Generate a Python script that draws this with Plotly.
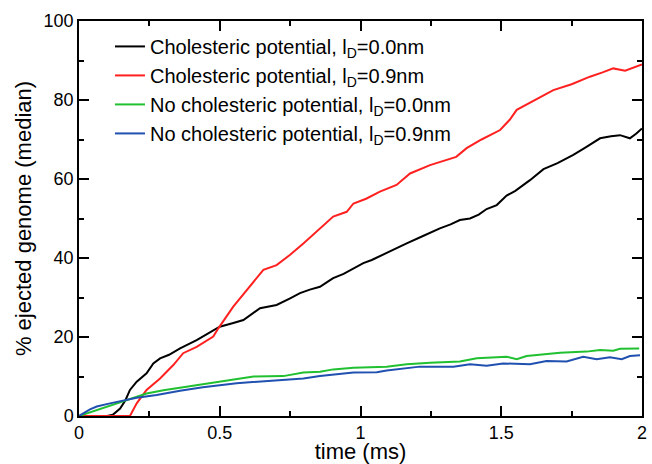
import plotly.graph_objects as go

# Series data
t_black = [0, 0.10, 0.12, 0.146, 0.165, 0.181, 0.205, 0.24, 0.264, 0.288, 0.32, 0.359, 0.418, 0.477, 0.5,
           0.545, 0.584, 0.643, 0.678, 0.702, 0.75, 0.785, 0.82, 0.856, 0.892, 0.903, 0.94, 0.975, 1.01,
           1.04, 1.069, 1.11, 1.164, 1.22, 1.282, 1.32, 1.353, 1.389, 1.42, 1.448, 1.484, 1.519, 1.55,
           1.602, 1.65, 1.7, 1.756, 1.80, 1.851, 1.89, 1.922, 1.957, 1.98, 2.0]
v_black = [0, 0, 0.3, 1.9, 4.0, 6.6, 8.7, 10.8, 13.3, 14.6, 15.5, 17.1, 19.2, 21.8, 22.6,
           23.5, 24.3, 27.3, 27.7, 28.1, 29.8, 31.1, 32.0, 32.7, 34.4, 34.9, 36.0, 37.4, 38.7,
           39.5, 40.5, 42.0, 43.7, 45.5, 47.5, 48.5, 49.6, 50.0, 51.0, 52.4, 53.4, 55.8, 57.0,
           59.7, 62.5, 64.0, 66.1, 68.0, 70.3, 70.8, 71.1, 70.3, 71.5, 72.8]

t_red = [0, 0.181, 0.205, 0.24, 0.288, 0.335, 0.37, 0.418, 0.477, 0.495, 0.548, 0.596, 0.655, 0.702,
         0.75, 0.797, 0.844, 0.903, 0.951, 0.975, 1.02, 1.069, 1.128, 1.176, 1.247, 1.30, 1.34, 1.377,
         1.43, 1.496, 1.53, 1.555, 1.62, 1.685, 1.75, 1.815, 1.86, 1.898, 1.94, 1.97, 2.0]
v_red = [0, 0, 3.2, 6.6, 9.5, 12.9, 15.9, 17.5, 20.1, 22.2, 27.7, 31.9, 37.0, 38.2,
         40.8, 43.7, 46.7, 50.5, 51.7, 53.8, 55.0, 56.8, 58.5, 61.4, 63.5, 64.8, 65.6, 67.8,
         70.0, 72.4, 75.0, 77.5, 80.0, 82.5, 84.0, 85.9, 87.0, 88.0, 87.4, 88.3, 89.0]

t_green = [0, 0.063, 0.146, 0.24, 0.30, 0.383, 0.5, 0.56, 0.62, 0.726, 0.797, 0.856, 0.903, 0.975,
           1.093, 1.164, 1.247, 1.353, 1.413, 1.519, 1.555, 1.59, 1.685, 1.709, 1.803, 1.851, 1.898,
           1.922, 1.99]
v_green = [0, 1.5, 3.6, 5.7, 6.5, 7.4, 8.7, 9.3, 10.0, 10.1, 11.0, 11.2, 11.8, 12.2,
           12.5, 13.1, 13.5, 13.8, 14.6, 15.0, 14.4, 15.2, 15.9, 16.0, 16.3, 16.7, 16.5,
           17.0, 17.1]

t_blue = [0, 0.039, 0.063, 0.11, 0.205, 0.276, 0.359, 0.44, 0.56, 0.678, 0.797, 0.856, 0.892, 0.975,
          1.058, 1.093, 1.211, 1.33, 1.389, 1.448, 1.507, 1.602, 1.661, 1.732, 1.791, 1.839, 1.886,
          1.928, 1.957, 1.993]
v_blue = [0, 1.7, 2.4, 3.2, 4.6, 5.3, 6.4, 7.3, 8.3, 8.9, 9.5, 10.1, 10.4, 11.0,
          11.1, 11.5, 12.5, 12.5, 13.1, 12.7, 13.3, 13.1, 13.9, 13.8, 15.0, 14.4, 14.9,
          14.4, 15.2, 15.4]

x_ticks = [0, 0.5, 1, 1.5, 2]
x_ticktext = ["0", "0.5", "1", "1.5", "2"]
y_ticks = [0, 20, 40, 60, 80, 100]

names = ["Cholesteric potential, l<sub>D</sub>=0.0nm",
         "Cholesteric potential, l<sub>D</sub>=0.9nm",
         "No cholesteric potential, l<sub>D</sub>=0.0nm",
         "No cholesteric potential, l<sub>D</sub>=0.9nm"]
colors = ["#000000", "#ff2020", "#20c030", "#2050b0"]
series = [(t_black, v_black), (t_red, v_red), (t_green, v_green), (t_blue, v_blue)]

FONT = "Liberation Sans, Arial, sans-serif"

fig = go.Figure()
for (t, v), n, c in zip(series, names, colors):
    fig.add_trace(go.Scatter(x=t, y=v, mode="lines", name=n,
                             line=dict(color=c, width=2)))

axis_common = dict(showline=True, linecolor="black", linewidth=1.5, mirror="ticks",
                   ticks="inside", ticklen=10, tickwidth=1.5, tickcolor="black",
                   showgrid=False, zeroline=False, automargin=False,
                   tickfont=dict(family=FONT, size=18, color="black"))

fig.update_xaxes(range=[0, 2], tickvals=x_ticks, ticktext=x_ticktext,
                 minor=dict(ticks="inside", ticklen=5, tickwidth=1.5, tickcolor="black", dtick=0.25, showgrid=False),
                 title=dict(text="time (ms)", font=dict(family=FONT, size=22, color="black"),
                            standoff=1),
                 **axis_common)
fig.update_yaxes(range=[0, 100], tickvals=y_ticks,
                 minor=dict(ticks="inside", ticklen=5, tickwidth=1.5, tickcolor="black", dtick=10, showgrid=False),
                 title=dict(text="% ejected genome (median)", font=dict(family=FONT, size=22, color="black"),
                            standoff=6),
                 **axis_common)

fig.update_layout(
    width=652, height=464,
    margin=dict(l=79, r=10, t=21, b=48),
    plot_bgcolor="white", paper_bgcolor="white",
    showlegend=True,
    legend=dict(x=0.055, y=0.985, xanchor="left", yanchor="top",
                bgcolor="rgba(0,0,0,0)", borderwidth=0, tracegroupgap=0,
                font=dict(family=FONT, size=20, color="black")),
)

fig.write_html("out.html", config={"displayModeBar": False},
               post_script="document.body.style.margin='0';")
